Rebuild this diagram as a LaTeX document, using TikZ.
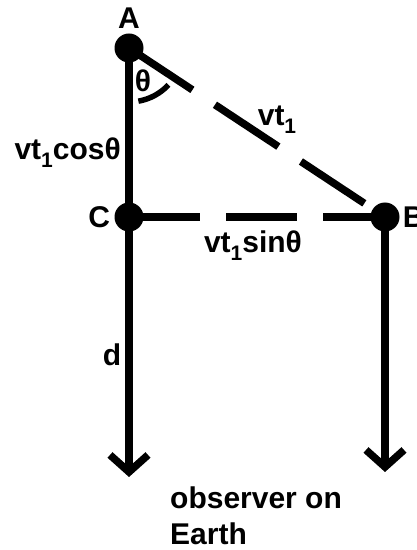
\documentclass[tikz,border=0pt]{standalone}
\usepackage{fontspec}
\setmainfont{Liberation Sans}
\usetikzlibrary{arrows.meta,positioning}
\newcommand{\subone}{\raisebox{-8pt}{\fontsize{21}{21}\selectfont 1}}

\begin{document}
\begin{tikzpicture}[
  x=1pt, y=1pt,
  node distance=5pt,
  dot/.style={circle,fill,inner sep=0pt,minimum size=29pt},
  lbl/.style={font=\fontsize{30}{36}\selectfont\bfseries,inner sep=0pt},
  ray/.style={line width=7.5pt,-{Straight Barb[length=17pt,width=38pt]}},
  dashline/.style={line width=7.5pt,dash pattern=on 76pt off 27pt}
]
  \useasboundingbox (0,0) rectangle (417,550);
  \node[dot] (A) at (129,502) {};
  \node[dot] (C) at (129,333) {};
  \node[dot] (B) at (385,333) {};
  \coordinate (endL) at (129,73);
  \coordinate (endR) at (385,78);
  \draw[ray] (A.center) -- (endL);
  \draw[ray] (B.center) -- (endR);
  \draw[dashline] (A.center) -- (B.center);
  \draw[dashline,dash pattern=on 71pt off 26pt] (C.center) -- (B.center);
  \draw[line width=5.5pt] (A.center) ++(-80:54) arc[start angle=-80,end angle=-43,radius=54];
  \node[lbl, above=5pt of A] (labA) {A};
  \node[lbl, left=4pt of C] (labC) {C};
  \node[lbl, right=3pt of B] (labB) {B};
  \node[lbl] (theta) at (143,469) {θ};
  \node[lbl] (vt) at (277,430) {vt\subone};
  \node[lbl,anchor=base east] (cos) at (121,390) {vt\subone cosθ};
  \node[lbl,anchor=base] (sin) at (253,297) {vt\subone sinθ};
  \node[lbl] (d) at (112,195) {d};
  \node[lbl,anchor=north west,align=left] (obs) at (170,63) {observer on\\Earth};
\end{tikzpicture}
\end{document}
